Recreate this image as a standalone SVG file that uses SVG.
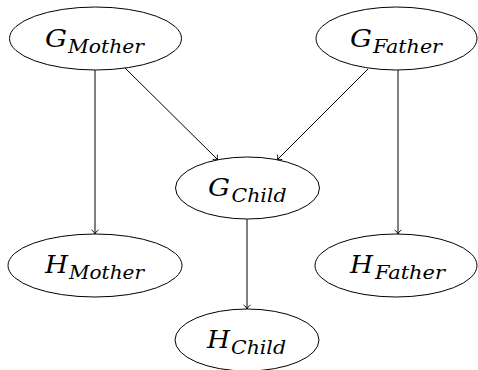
<svg xmlns="http://www.w3.org/2000/svg" width="478" height="370" viewBox="0 0 478 370">
<style>
.n{fill:#fff;stroke:#000;stroke-width:1}
text{font-family:'DejaVu Serif',serif;font-style:italic;fill:#000}
.m{font-size:25px}
.s{font-size:18px}
.e{fill:none;stroke:#000;stroke-width:1}
</style>
<defs>
<marker id="a" markerUnits="userSpaceOnUse" markerWidth="12" markerHeight="12" viewBox="-6 -6 12 12" refX="0" refY="0" orient="auto">
<path d="M-4,-3.5 C-3,-1.5 -1,-0.4 0,0 C-1,0.4 -3,1.5 -4,3.5" fill="none" stroke="#000" stroke-width="0.9"/>
</marker>
</defs>
<g id="connectors">
<line class="e" x1="95" y1="70" x2="95" y2="234" marker-end="url(#a)"/>
<line class="e" x1="125" y1="68" x2="218" y2="160" marker-end="url(#a)"/>
<line class="e" x1="368" y1="69" x2="277" y2="160" marker-end="url(#a)"/>
<line class="e" x1="398" y1="70" x2="398" y2="234" marker-end="url(#a)"/>
<line class="e" x1="247" y1="219" x2="247" y2="309" marker-end="url(#a)"/>
</g>
<g id="GMother">
<ellipse class="n" cx="95.5" cy="38.5" rx="86" ry="31.5"/>
<text class="m" x="45" y="47" textLength="22" lengthAdjust="spacingAndGlyphs">G</text>
<text class="s" x="68" y="53" textLength="76" lengthAdjust="spacingAndGlyphs">Mother</text>
</g>
<g id="GFather">
<ellipse class="n" cx="396.5" cy="38.5" rx="80.5" ry="31.5"/>
<text class="m" x="350" y="47" textLength="22" lengthAdjust="spacingAndGlyphs">G</text>
<text class="s" x="373" y="53" textLength="69" lengthAdjust="spacingAndGlyphs">Father</text>
</g>
<g id="GChild">
<ellipse class="n" cx="247.5" cy="188" rx="72" ry="31"/>
<text class="m" x="208" y="196" textLength="22" lengthAdjust="spacingAndGlyphs">G</text>
<text class="s" x="231.5" y="202" textLength="55" lengthAdjust="spacingAndGlyphs">Child</text>
</g>
<g id="HMother">
<ellipse class="n" cx="95" cy="265.5" rx="87" ry="31.5"/>
<text class="m" x="45" y="273" textLength="23" lengthAdjust="spacingAndGlyphs">H</text>
<text class="s" x="69" y="279" textLength="75" lengthAdjust="spacingAndGlyphs">Mother</text>
</g>
<g id="HFather">
<ellipse class="n" cx="396" cy="265.5" rx="81" ry="31.5"/>
<text class="m" x="350" y="273" textLength="23" lengthAdjust="spacingAndGlyphs">H</text>
<text class="s" x="375" y="279" textLength="70" lengthAdjust="spacingAndGlyphs">Father</text>
</g>
<g id="HChild">
<ellipse class="n" cx="247" cy="340" rx="72" ry="31"/>
<text class="m" x="207" y="348" textLength="23" lengthAdjust="spacingAndGlyphs">H</text>
<text class="s" x="231" y="354" textLength="55" lengthAdjust="spacingAndGlyphs">Child</text>
</g>
</svg>
